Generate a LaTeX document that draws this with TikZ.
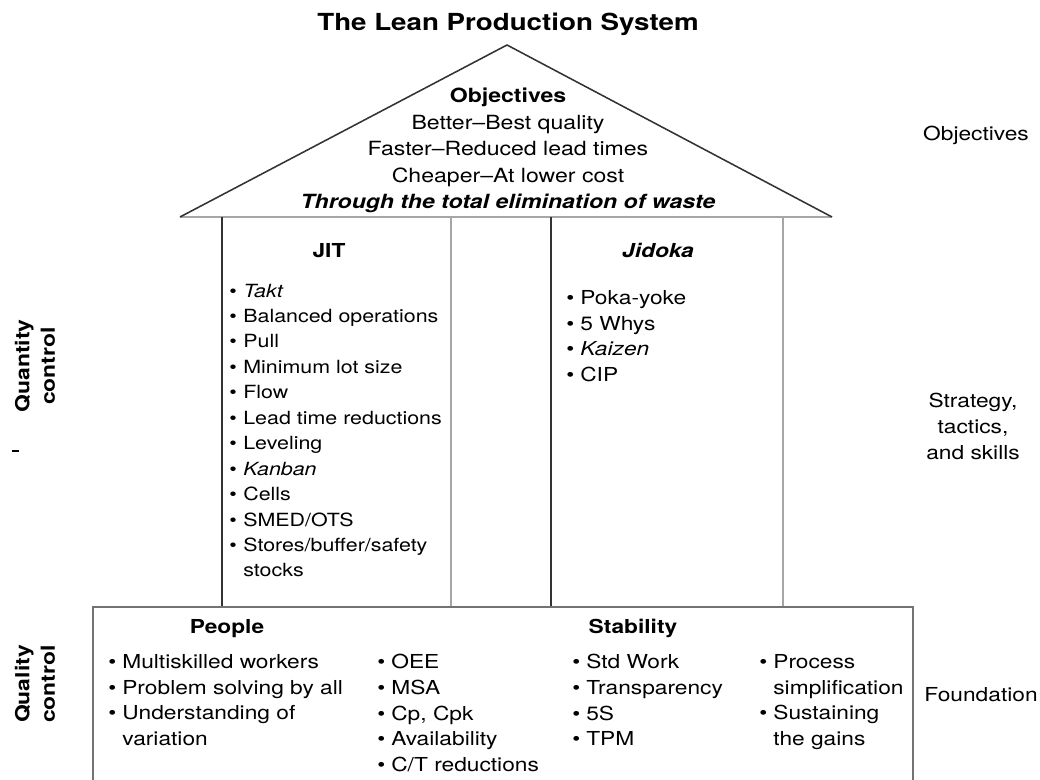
\documentclass[tikz,border=0pt]{standalone}
\usepackage{fontspec}
\setmainfont[FakeStretch=1.18]{TeX Gyre Heros}
\usetikzlibrary{positioning}

\newcommand{\itm}{\makebox[10pt][l]{\textbullet}}
\newcommand{\contline}{\hspace*{10pt}}

\begin{document}
\begin{tikzpicture}[
			x=0.025cm, y=-0.025cm,
			every node/.style={inner sep=0pt, font=\fontsize{13.7}{18.3}\selectfont},
			head/.style={font=\fontsize{13.7}{18.3}\selectfont\bfseries, anchor=base},
			list/.style={align=left, anchor=north west},
			side/.style={align=center},
			darkline/.style={line width=1.1pt, draw=black!80},
			greyline/.style={line width=2.1pt, draw=black!35},
			baseline/.style={line width=1.5pt, draw=black!55}
			]
			\useasboundingbox (0,0) rectangle (1040,780);
			
			% roof and pillars
			\coordinate (apex) at (507,45);
			\coordinate (roofL) at (180,217);
			\coordinate (roofR) at (832,217);
			\draw[greyline] (roofL) -- (roofR);
			\draw[darkline, line join=miter] (roofL) -- (apex) -- (roofR);
			
			\draw[darkline] (222,217) -- (222,607);
			\draw[greyline] (451,218) -- (451,607);
			\draw[darkline] (551,217) -- (551,607);
			\draw[greyline] (783,218) -- (783,607);
			
			% foundation
			\draw[baseline] (93,781) -- (93,607) -- (913,607) -- (913,781);
			
			\node[head, font=\fontsize{16.7}{20}\selectfont\bfseries] (title) at (508,30.5) {The Lean Production System};
			
			\node[align=center, anchor=north, font=\fontsize{13.9}{18.8}\selectfont] (obj) at (508,88)
			{\textbf{Objectives}\\ Better--Best quality\\ Faster--Reduced lead times\\ Cheaper--At lower cost\\ \textbf{\textit{Through the total elimination of waste}}};
			
			\node[head] (jit) at (329,258) {JIT};
			\node[head, font=\fontsize{13.7}{18.3}\selectfont\bfseries\itshape] (jidoka) at (658,258) {Jidoka};
			
			\node[list, font=\fontsize{12.9}{18.1}\selectfont] (jitlist) at (229,283.5) {\itm\textit{Takt}\\ \itm Balanced operations\\ \itm Pull\\ \itm Minimum lot size\\ \itm Flow\\ \itm Lead time reductions\\ \itm Leveling\\ \itm\textit{Kanban}\\ \itm Cells\\ \itm SMED/OTS\\ \itm Stores/buffer/safety\\ \contline stocks};
			\node[list] (jidlist) at (566,290) {\itm Poka-yoke\\ \itm 5 Whys\\ \itm\textit{Kaizen}\\ \itm CIP};
			
			\node[head] (people) at (227,633) {People};
			\node[head] (stability) at (633,633) {Stability};
			
			\node[list] (pplA) at (108,654) {\itm Multiskilled workers\\ \itm Problem solving by all\\ \itm Understanding of\\ \contline variation};
			\node[list] (pplB) at (377,654) {\itm OEE\\ \itm MSA\\ \itm Cp, Cpk\\ \itm Availability\\ \itm C/T reductions};
			\node[list] (stabA) at (572,654) {\itm Std Work\\ \itm Transparency\\ \itm 5S\\ \itm TPM};
			\node[list] (stabB) at (759,654) {\itm Process\\ \contline simplification\\ \itm Sustaining\\ \contline the gains};
			
			% right-hand labels
			\node[anchor=base] (objlbl) at (976,141) {Objectives};
			\node[side, anchor=north] (strat) at (973,393) {Strategy,\\ tactics,\\ and skills};
			\node[anchor=base] (found) at (981,701) {Foundation};
			
			% left-hand labels
			\node[side, rotate=90, font=\fontsize{13.8}{18}\selectfont\bfseries] (qtyctl) at (35,366) {Quantity\\ control};
			\node[side, rotate=90, font=\fontsize{13.8}{18}\selectfont\bfseries] (qlyctl) at (35,684) {Quality\\ control};
			\draw[line width=1pt] (12,451) -- (19,451);
		\end{tikzpicture}
\end{document}
